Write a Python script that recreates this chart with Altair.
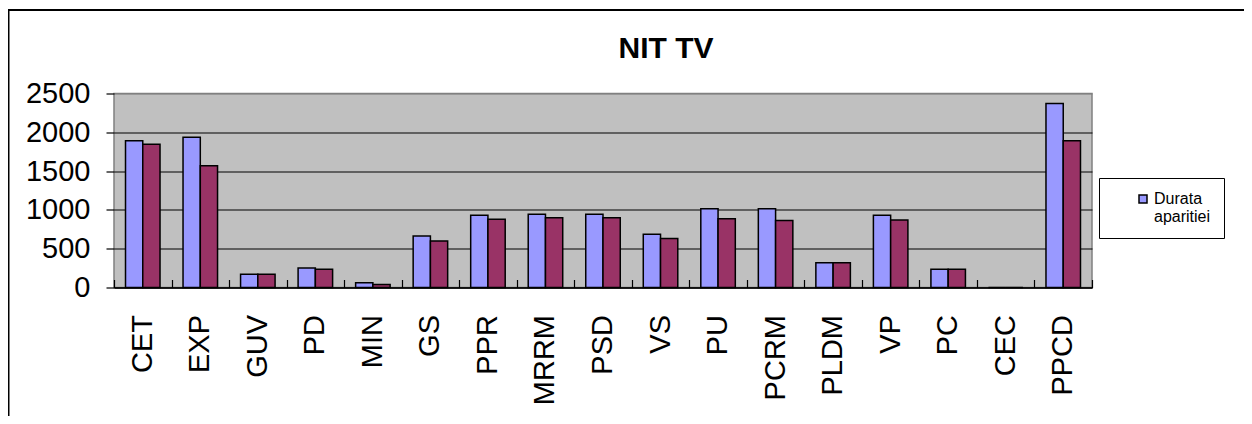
import altair as alt
import pandas as pd

categories = ["CET", "EXP", "GUV", "PD", "MIN", "GS", "PPR", "MRRM", "PSD",
              "VS", "PU", "PCRM", "PLDM", "VP", "PC", "CEC", "PPCD"]
series_names = ["Durata aparitiei", "Serie 2"]
durata = [1890, 1935, 170, 250, 60, 665, 930, 945, 945, 685, 1015, 1015, 320, 930, 235, 0, 2370]
serie2 = [1845, 1570, 170, 235, 40, 600, 880, 900, 900, 630, 885, 865, 320, 870, 235, 0, 1890]
y_ticks = [0, 500, 1000, 1500, 2000, 2500]
colors = ["#9999FF", "#993366"]

rows = []
for i, c in enumerate(categories):
    rows.append({"cat": c, "serie": series_names[0], "val": durata[i]})
    rows.append({"cat": c, "serie": series_names[1], "val": serie2[i]})
df = pd.DataFrame(rows)

FONT = "Liberation Sans"

x_scale = alt.Scale(paddingInner=0, paddingOuter=0)

bars = alt.Chart(df).mark_bar(stroke="black", strokeWidth=1.5).encode(
    x=alt.X("cat:N", sort=categories, scale=x_scale, title=None,
            axis=alt.Axis(orient="bottom", labelAngle=-90, labelFontSize=29,
                          labelFont=FONT, labelColor="black", labelPadding=27,
                          ticks=False, domain=True, domainColor="black",
                          domainWidth=1.5, grid=False)),
    xOffset=alt.XOffset("serie:N", sort=series_names,
                        scale=alt.Scale(paddingInner=0, paddingOuter=0.667)),
    y=alt.Y("val:Q", scale=alt.Scale(domain=[0, 2500], nice=False), title=None,
            axis=alt.Axis(values=y_ticks, format="d", labelOverlap=False,
                          labelFontSize=29, labelFont=FONT,
                          labelColor="black", labelPadding=16, tickSize=8,
                          tickColor="black", tickWidth=1.2, domain=False,
                          grid=True,
                          gridColor={"condition": {"test": "datum.value === 2500",
                                                   "value": "#808080"},
                                     "value": "black"},
                          gridWidth=1)),
    color=alt.Color("serie:N", sort=series_names,
                    scale=alt.Scale(domain=series_names, range=colors),
                    legend=alt.Legend(values=[series_names[0]], title=None,
                                      orient="none", legendX=985, legendY=84.5,
                                      strokeColor="black", fillColor="white",
                                      padding=13, symbolOffset=23,
                                      symbolType="square", symbolSize=64,
                                      symbolStrokeColor="black",
                                      symbolStrokeWidth=1.5, labelOffset=3,
                                      labelFontSize=16, labelFont=FONT,
                                      labelColor="black", labelLimit=300,
                                      labelExpr="['Durata', 'aparitiei\u00a0\u00a0\u00a0\u00a0\u00a0']")),
)

tick_layer = alt.Chart(df).mark_point(opacity=0).encode(
    x=alt.X("cat:N", sort=categories, scale=x_scale, title=None,
            axis=alt.Axis(orient="bottom", offset=-8, tickSize=8,
                          tickColor="black", tickWidth=1.2, tickBand="extent",
                          labels=False, domain=False, grid=False)),
)

frame = alt.Chart(alt.Data(values=[{}])).mark_rect(
    filled=False, stroke="black", strokeWidth=2
).encode(
    x=alt.value(-105.5), x2=alt.value(1300),
    y=alt.value(-83.5), y2=alt.value(500),
)

chart = alt.layer(bars, tick_layer, frame).resolve_axis(
    x="independent"
).properties(
    width=978, height=194,
    title=alt.Title("NIT TV", fontSize=30, fontWeight="bold", font=FONT,
                    color="black", anchor="middle", dx=63, offset=14, dy=69),
    autosize=alt.AutoSizeParams(type="none"),
    padding={"left": 106, "top": 85.5, "right": 152, "bottom": 128},
).configure(
    background="white"
).configure_view(
    fill="#C0C0C0", stroke="#808080", strokeWidth=1.5
)

chart.save("out.html", embed_options={"renderer": "svg", "actions": False})
